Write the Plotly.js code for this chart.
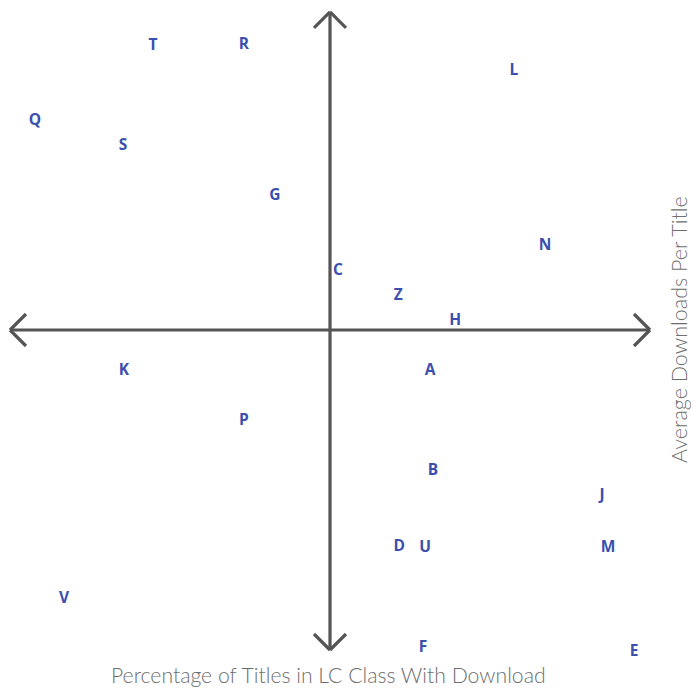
<!DOCTYPE html>
<html>
<head>
<meta charset="utf-8">
<script src="https://cdn.plot.ly/plotly-3.0.1.min.js"></script>
<style>html,body{margin:0;padding:0;background:#fff;}#chart{width:691px;height:691px;}</style>
</head>
<body>
<div id="chart"></div>
<script>
// Data (quadrant units: center of cross = 0,0)
const labels = ["T","R","L","Q","S","G","N","C","Z","H","K","A","P","B","J","D","U","M","V","F","E"];
const xValues = [-5.53,-2.69,5.75,-9.22,-6.47,-1.72,6.72,0.25,2.13,3.91,-6.44,3.13,-2.69,3.22,8.50,2.16,2.97,8.69,-8.31,2.91,9.50];
const yValues = [8.88,8.91,8.10,6.53,5.75,4.19,2.63,1.85,1.06,0.28,-1.28,-1.28,-2.84,-4.41,-5.19,-6.78,-6.81,-6.81,-8.41,-9.94,-10.06];
const xTitle = "Percentage of Titles in LC Class With Download";
const yTitle = "Average Downloads Per Title";

const axisColor = "#555555";
const lw = 3.2;
// axis extents
const xl = -10.0, xr = 10.0, yb = -10.0, yt = 9.94;
const a = 0.5; // arrow arm length in units
const shapes = [];
function seg(x0,y0,x1,y1){shapes.push({type:"line",xref:"x",yref:"y",x0:x0,y0:y0,x1:x1,y1:y1,line:{color:axisColor,width:lw}});}
seg(xl,0,xr,0);
seg(0,yb,0,yt);
seg(xl,0,xl+a,a); seg(xl,0,xl+a,-a);
seg(xr,0,xr-a,a); seg(xr,0,xr-a,-a);
seg(0,yt,a,yt-a); seg(0,yt,-a,yt-a);
seg(0,yb,a,yb+a); seg(0,yb,-a,yb+a);

const trace = {
  type:"scatter", mode:"text", x:xValues, y:yValues, text:labels,
  textposition:"middle center",
  textfont:{family:"Open Sans, Liberation Sans, sans-serif", size:15.5, color:"#3a4fae", weight:700},
  hoverinfo:"none", cliponaxis:false
};

const layout = {
  width:691, height:691,
  margin:{l:0,r:0,t:0,b:0},
  paper_bgcolor:"#ffffff", plot_bgcolor:"#ffffff",
  showlegend:false,
  xaxis:{range:[-330/32, 361/32], visible:false, fixedrange:true},
  yaxis:{range:[-361/32, 330/32], visible:false, fixedrange:true},
  shapes:shapes,
  annotations:[
    {xref:"paper",yref:"paper",x:328/691,y:1-675/691,text:xTitle,showarrow:false,
     font:{family:"Lato, Open Sans, sans-serif",size:21.2,color:"#6e6e6e",weight:300},xanchor:"center",yanchor:"middle"},
    {xref:"paper",yref:"paper",x:679/691,y:1-330/691,text:yTitle,showarrow:false,textangle:-90,
     font:{family:"Lato, Open Sans, sans-serif",size:21.5,color:"#6e6e6e",weight:300},xanchor:"center",yanchor:"middle"}
  ]
};
Plotly.newPlot("chart",[trace],layout,{staticPlot:true,displayModeBar:false});
</script>
</body>
</html>
